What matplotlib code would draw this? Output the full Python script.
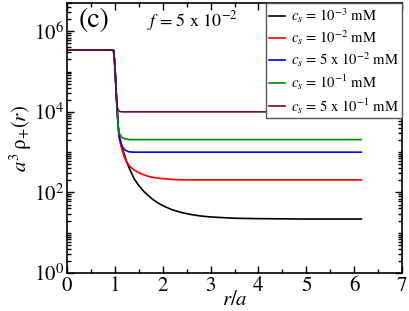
import numpy as np
import matplotlib
matplotlib.use("Agg")
import matplotlib.pyplot as plt
from matplotlib.ticker import LogLocator, FixedLocator, NullFormatter

plt.rcParams["font.family"] = ["STIXGeneral", "DejaVu Serif"]
plt.rcParams["mathtext.fontset"] = "stix"

# common wall region (r/a) shared by all curves
r_wall = [0, 0.97, 0.99, 1.01, 1.03, 1.05, 1.07]
rho_wall = [3.4e5, 3.4e5, 2.0e5, 7.9e4, 2.5e4, 1.0e4, 4.0e3]

r_1e3 = [1.1, 1.15, 1.2, 1.25, 1.3, 1.4, 1.5, 1.6, 1.7, 1.8, 1.9, 2.0, 2.2, 2.4,
         2.6, 2.8, 3.0, 3.5, 4.0, 5.0, 6.15]
rho_1e3 = [2.0e3, 1.26e3, 8.5e2, 5.6e2, 4.0e2, 2.2e2, 1.48e2, 1.07e2, 83, 66,
           55, 47, 37, 31.6, 28.2, 26, 24.7, 22.9, 22.4, 21.9, 21.9]

r_1e2 = [1.1, 1.15, 1.2, 1.25, 1.3, 1.4, 1.5, 1.6, 1.7, 1.8, 2.0, 2.2, 2.5, 6.15]
rho_1e2 = [2.0e3, 1.12e3, 7.4e2, 5.5e2, 4.6e2, 3.6e2, 3.1e2, 2.75e2, 2.5e2,
           2.35e2, 2.2e2, 2.1e2, 2.05e2, 2.05e2]

r_5e2 = [1.1, 1.15, 1.2, 1.25, 1.3, 1.4, 6.15]
rho_5e2 = [2.2e3, 1.4e3, 1.15e3, 1.07e3, 1.02e3, 1.0e3, 1.0e3]

r_1e1 = [1.1, 1.15, 1.2, 1.25, 1.3, 6.15]
rho_1e1 = [2.8e3, 2.3e3, 2.15e3, 2.1e3, 2.05e3, 2.05e3]

r_5e1 = [0, 0.97, 0.99, 1.01, 1.03, 1.05, 1.07, 1.1, 1.15, 6.15]
rho_5e1 = [3.4e5, 3.4e5, 2.0e5, 7.9e4, 2.5e4, 1.3e4, 1.1e4, 1.02e4, 1.0e4, 1.0e4]

curves = [
    (r_wall + r_1e3, rho_wall + rho_1e3),
    (r_wall + r_1e2, rho_wall + rho_1e2),
    (r_wall + r_5e2, rho_wall + rho_5e2),
    (r_wall + r_1e1, rho_wall + rho_1e1),
    (r_5e1, rho_5e1),
]
labels = [r"$c_s$ = 10$^{-3}$ mM", r"$c_s$ = 10$^{-2}$ mM",
          r"$c_s$ = 5 x 10$^{-2}$ mM", r"$c_s$ = 10$^{-1}$ mM",
          r"$c_s$ = 5 x 10$^{-1}$ mM"]
colors = ["black", "#ff0000", "#0000ff", "#008b00", "#670748"]

fig = plt.figure(figsize=(4.09, 3.11), dpi=100)
ax = fig.add_axes([0.164, 0.122, 0.819, 0.868])

for (x, y), lab, c in zip(curves, labels, colors):
    ax.plot(x, y, color=c, lw=1.2, label=lab)

ax.set_yscale("log")
ax.set_xlim(0, 7)
ax.set_ylim(1, 5e6)

ax.xaxis.set_major_locator(FixedLocator(range(0, 8)))
ax.xaxis.set_minor_locator(FixedLocator(np.arange(0.5, 7, 1.0)))
ax.yaxis.set_major_locator(FixedLocator([1, 1e2, 1e4, 1e6]))
ax.set_yticklabels([r"10$^0$", r"10$^2$", r"10$^4$", r"10$^6$"])
ax.yaxis.set_minor_locator(LogLocator(base=10, subs=np.arange(1, 10), numticks=20))
ax.yaxis.set_minor_formatter(NullFormatter())

ax.tick_params(which="both", direction="in", top=True, right=True,
               labelsize=15, width=1.0)
ax.tick_params(which="major", length=5, pad=2)
ax.tick_params(which="minor", length=3)
for s in ax.spines.values():
    s.set_linewidth(1.2)

ax.set_xlabel(r"$r/a$", fontsize=15, labelpad=-4)
ax.set_ylabel(r"$a^3\,\mathrm{\rho}_{+}(r)$", fontsize=15, labelpad=0)

ax.text(0.035, 0.935, "(c)", transform=ax.transAxes, fontsize=20,
        ha="left", va="center")
ax.text(0.24, 0.935, r"$f$ = 5 x 10$^{-2}$", transform=ax.transAxes,
        fontsize=13, ha="left", va="center")

leg = ax.legend(loc="upper right", fontsize=10.5, frameon=True, fancybox=False,
                borderaxespad=0, handlelength=1.1, handletextpad=0.45,
                labelspacing=0.25, borderpad=0.2)
leg.get_frame().set_edgecolor("#555555")
leg.get_frame().set_linewidth(1.0)
leg.get_frame().set_alpha(1)

fig.savefig("out.png", dpi=100)
